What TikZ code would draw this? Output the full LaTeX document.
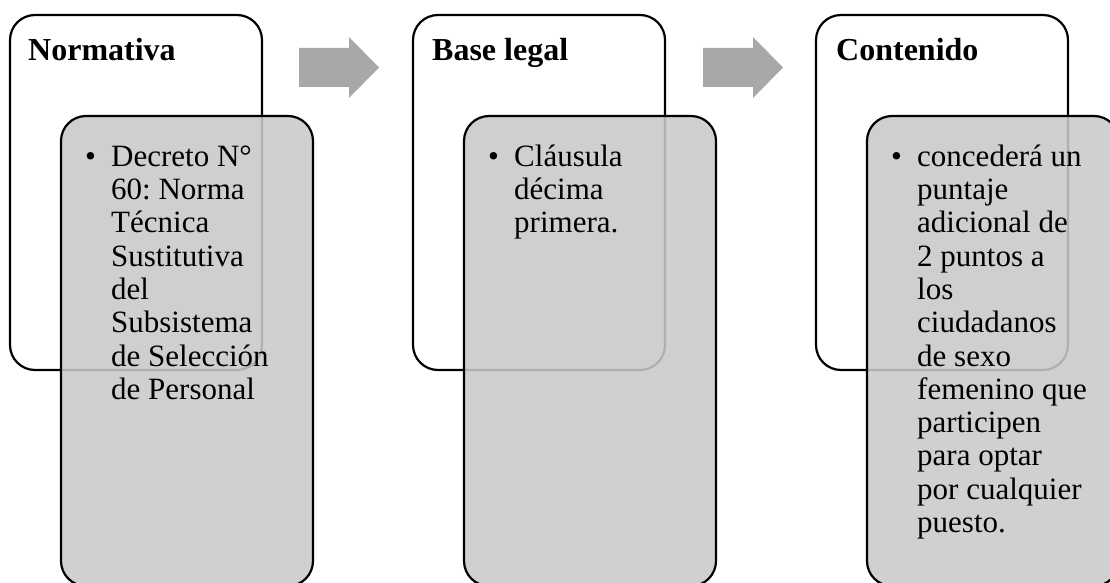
\documentclass[tikz,border=0pt]{standalone}
\usepackage{fontspec}
\setmainfont{Liberation Serif}
\frenchspacing
\definecolor{boxgray}{RGB}{201,201,201}
\definecolor{arrowgray}{RGB}{168,168,168}
\begin{document}
\begin{tikzpicture}[x=1pt,y=-1pt,
    whitebox/.style={draw,line width=2.2pt,rounded corners=25pt,fill=white,minimum width=252pt,minimum height=355pt,inner sep=0pt},
    graybox/.style={draw,line width=2.2pt,rounded corners=25pt,fill=boxgray,fill opacity=0.875,minimum width=252pt,minimum height=470pt,inner sep=0pt},
    titletext/.style={anchor=base west,inner sep=0pt,font=\fontsize{32}{33}\selectfont\bfseries},
    itemdot/.style={anchor=base west,inner sep=0pt,font=\fontsize{31}{33.3}\selectfont},
    itemtext/.style={anchor=north west,inner sep=0pt,align=left,font=\fontsize{31}{33.3}\selectfont}]
      \useasboundingbox (0,0) rectangle (1110,583);
      \clip (0,0) rectangle (1110,583);
      \node[whitebox] (w1) at (136,192.5) {}; \node[whitebox] (w2) at (539,192.5) {}; \node[whitebox] (w3) at (942,192.5) {};
      \node[titletext] (t1) at (28,61) {Normativa}; \node[titletext] (t2) at (432,61) {Base legal}; \node[titletext] (t3) at (836,61) {Contenido};
      \coordinate (p1) at (299,66.5); \coordinate (p2) at (703,66.5);
      \foreach \p in {p1,p2}
        \fill[arrowgray] (\p) ++(0,-18.5) -- ++(50,0) -- ++(0,-11) -- ++(30,30.5) -- ++(-30,30.5) -- ++(0,-11) -- ++(-50,0) -- cycle;
      \node[graybox] (g1) at (187,351) {}; \node[graybox] (g2) at (590,351) {}; \node[graybox] (g3) at (993,351) {};
      \node[itemdot] (d1) at (85,166) {•}; \node[itemdot] (d2) at (488,166) {•}; \node[itemdot] (d3) at (891,166) {•};
      \node[itemtext] (x1) at (111,140) {\rule{0pt}{26pt}Decreto N°\\60: Norma\\Técnica\\Sustitutiva\\del\\Subsistema\\de Selección\\de Personal};
      \node[itemtext] (x2) at (514,140) {\rule{0pt}{26pt}Cláusula\\décima\\primera.};
      \node[itemtext] (x3) at (917,140) {\rule{0pt}{26pt}concederá un\\puntaje\\adicional de\\2 puntos a\\los\\ciudadanos\\de sexo\\femenino que\\participen\\para optar\\por cualquier\\puesto.};
    \end{tikzpicture}
\end{document}
